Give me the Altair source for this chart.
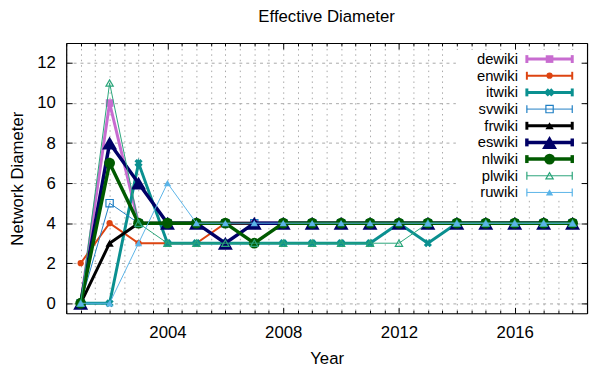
import altair as alt
import pandas as pd

FONT = "Liberation Sans"

years = list(range(2001, 2019))
series_names = ["dewiki", "enwiki", "itwiki", "svwiki", "frwiki",
                "eswiki", "nlwiki", "plwiki", "ruwiki"]
dewiki = [0, 10, 4, 4, 4, 4, 4, 4, 4, 4, 4, 4, 4, 4, 4, 4, 4, 4]
enwiki = [2, 4, 3, 3, 3, 4, 4, 4, 4, 4, 4, 4, 4, 4, 4, 4, 4, 4]
itwiki = [0, 0, 7, 3, 3, 3, 3, 3, 3, 3, 3, 4, 3, 4, 4, 4, 4, 4]
svwiki = [0, 5, 4, 4, 4, 4, 4, 4, 4, 4, 4, 4, 4, 4, 4, 4, 4, 4]
frwiki = [0, 3, 4, 4, 4, 4, 4, 4, 4, 4, 4, 4, 4, 4, 4, 4, 4, 4]
eswiki = [0, 8, 6, 4, 4, 3, 4, 4, 4, 4, 4, 4, 4, 4, 4, 4, 4, 4]
nlwiki = [0, 7, 4, 4, 4, 4, 3, 4, 4, 4, 4, 4, 4, 4, 4, 4, 4, 4]
plwiki = [0, 11, 4, 3, 3, 3, 3, 3, 3, 3, 3, 3, 4, 4, 4, 4, 4, 4]
ruwiki = [0, 0, 3, 6, 4, 4, 4, 4, 4, 4, 4, 4, 4, 4, 4, 4, 4, 4]
series_values = [dewiki, enwiki, itwiki, svwiki, frwiki, eswiki, nlwiki, plwiki, ruwiki]

x_tick_labels = [2004, 2008, 2012, 2016]
y_ticks = [0, 2, 4, 6, 8, 10, 12]
half_years = [2000.5 + 0.5 * i for i in range(37)]

colors = ["#c86cd0", "#dd4411", "#0a9090", "#1f7fc4", "#000000",
          "#000066", "#005a00", "#2aa57a", "#5ab4e8"]
line_widths = [3, 2, 3, 1, 3, 3.5, 3.5, 1, 1]
shapes = ["square", "circle", "cross", "square", "triangle-up",
          "triangle-up", "circle", "triangle-up", "triangle-up"]
sizes = [60, 40, 70, 55, 70, 230, 120, 55, 55]
filled = [True, True, True, False, True, True, True, False, True]
angles = [0, 0, 45, 0, 0, 0, 0, 0, 0]

W, H = 528, 274
XDOM = [2000.5, 2018.5]
YDOM = [-0.5, 13]

xs = alt.Scale(domain=XDOM, nice=False, zero=False)
ys = alt.Scale(domain=YDOM, nice=False, zero=False)

tick_cond = {"condition": {"test": "datum.value % 4 === 0", "value": 6}, "value": 3}

axis_x_main = alt.Axis(values=half_years, grid=True, gridDash=[1.5, 4], gridColor="#a8a8a8",
                       gridWidth=1, ticks=False, tickSize=0, domain=False,
                       labelExpr="datum.value % 4 === 0 ? format(datum.value, 'd') : ''",
                       labelOverlap=False, labelFlush=False, labelFont=FONT, labelFontSize=17,
                       labelColor="black", labelPadding=12, title="Year", titleFont=FONT,
                       titleFontSize=17, titleFontWeight="normal", titleColor="black",
                       titlePadding=10)
axis_y_main = alt.Axis(values=y_ticks, grid=True, gridDash=[3, 4], gridColor="#a8a8a8",
                       gridWidth=1, ticks=False, tickSize=0, domain=False,
                       labelFont=FONT, labelFontSize=17, labelColor="black", labelPadding=11,
                       title="Network Diameter", titleFont=FONT, titleFontSize=17,
                       titleFontWeight="normal", titleColor="black", titlePadding=10)

axis_x_in_bottom = alt.Axis(orient="top", offset=-H, values=half_years, ticks=True,
                            tickSize=tick_cond, tickColor="black", tickWidth=1, labels=False,
                            grid=False, domain=True, domainColor="black", domainWidth=1.2,
                            title=None, zindex=1)
axis_x_in_top = alt.Axis(orient="bottom", offset=-H, values=half_years, ticks=True,
                         tickSize=tick_cond, tickColor="black", tickWidth=1, labels=False,
                         grid=False, domain=True, domainColor="black", domainWidth=1.2,
                         title=None, zindex=1)
axis_y_in_left = alt.Axis(orient="right", offset=-W, values=y_ticks, ticks=True, tickSize=6,
                          tickColor="black", tickWidth=1, labels=False, grid=False,
                          domain=True, domainColor="black", domainWidth=1.2, title=None, zindex=1)
axis_y_in_right = alt.Axis(orient="left", offset=-W, values=y_ticks, ticks=True, tickSize=6,
                           tickColor="black", tickWidth=1, labels=False, grid=False,
                           domain=True, domainColor="black", domainWidth=1.2, title=None, zindex=1)

base_df = pd.DataFrame({"year": years, "v": dewiki})


def host(ax_x, ax_y):
    return alt.Chart(base_df).mark_point(opacity=0).encode(
        x=alt.X("year:Q", scale=xs, axis=ax_x),
        y=alt.Y("v:Q", scale=ys, axis=ax_y),
    )


layers = [
    host(axis_x_main, axis_y_main),
    host(axis_x_in_bottom, axis_y_in_left),
    host(axis_x_in_top, axis_y_in_right),
]

for i, name in enumerate(series_names):
    df = pd.DataFrame({"year": years, "v": series_values[i]})
    enc = dict(x=alt.X("year:Q", scale=xs, axis=None), y=alt.Y("v:Q", scale=ys, axis=None))
    layers.append(alt.Chart(df).mark_line(color=colors[i], strokeWidth=line_widths[i]).encode(**enc))
    layers.append(alt.Chart(df).mark_point(shape=shapes[i], size=sizes[i], filled=filled[i],
                                           color=colors[i], opacity=1, angle=angles[i],
                                           strokeWidth=1.2).encode(**enc))

# legend box
box_df = pd.DataFrame({"a": [0]})
layers.append(alt.Chart(box_df).mark_rect(color="white").encode(
    x=alt.value(395), x2=alt.value(526), y=alt.value(7), y2=alt.value(159)))

LY0, LDY = 16.3, 16.9
for i, name in enumerate(series_names):
    ldf = pd.DataFrame({"row": [i], "name": [name]})
    ly = alt.Y("row:Q", scale=alt.Scale(domain=[0, 8], range=[LY0, LY0 + 8 * LDY]), axis=None)
    layers.append(alt.Chart(ldf).mark_rule(color=colors[i], strokeWidth=line_widths[i]).encode(
        x=alt.value(467), x2=alt.value(513), y=ly))
    for cx in (467, 513):
        layers.append(alt.Chart(ldf).mark_tick(orient="vertical", size=8,
                                               thickness=max(line_widths[i], 1.2),
                                               color=colors[i], opacity=1).encode(
            x=alt.value(cx), y=ly))
    layers.append(alt.Chart(ldf).mark_point(shape=shapes[i], size=sizes[i], filled=filled[i],
                                            color=colors[i], opacity=1, angle=angles[i],
                                            strokeWidth=1.2).encode(x=alt.value(490), y=ly))
    layers.append(alt.Chart(ldf).mark_text(align="right", baseline="middle", font=FONT,
                                           fontSize=15, color="black").encode(
        x=alt.value(458), y=ly, text="name:N"))

chart = alt.layer(*layers).resolve_scale(y="independent").resolve_axis(
    x="independent", y="independent"
).properties(
    width=W, height=H,
    title=alt.TitleParams("Effective Diameter", font=FONT, fontSize=17, fontWeight="normal",
                          color="black", anchor="middle", offset=17),
    autosize=alt.AutoSizeParams(type="none"),
    padding={"left": 59, "top": 33, "right": 3, "bottom": 53},
).configure_view(stroke=None).configure(font=FONT, background="white")

chart.save("out.html", embed_options={"renderer": "svg", "actions": False})
